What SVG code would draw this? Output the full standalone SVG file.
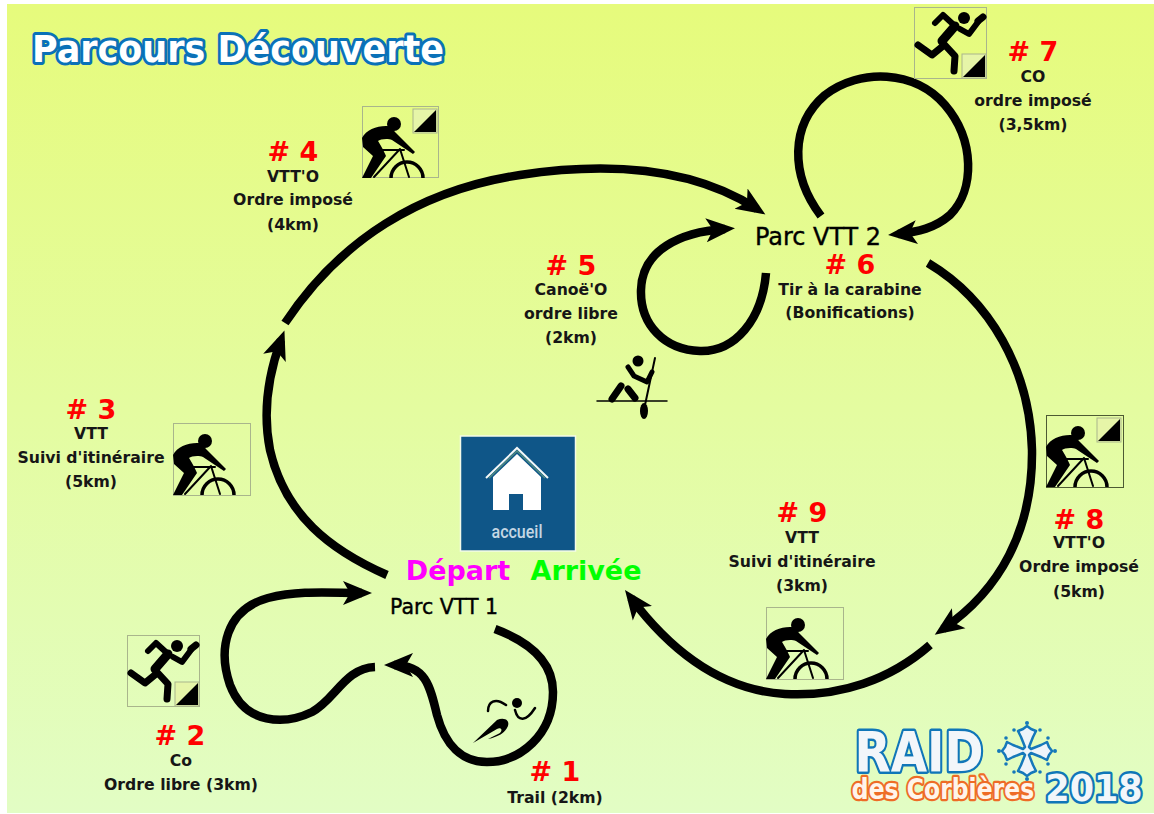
<svg xmlns="http://www.w3.org/2000/svg" width="1154" height="814" viewBox="0 0 1154 814">
<style>
text{font-family:"DejaVu Sans",Verdana,sans-serif;text-anchor:middle}
.num{font-size:27px;font-weight:700;fill:#f00}
.lab{font-size:15.700px;font-weight:700;fill:#161616}
.park{fill:#000;stroke:#000;stroke-width:.4px}
.c{fill:none;stroke:#000;stroke-width:8.500;stroke-linecap:butt}
.box{fill:none;stroke:#a9b58c;stroke-width:1}
.ln{fill:none;stroke:#000;stroke-linecap:round;stroke-linejoin:round}
.blue{fill:#f2f6fa;stroke:#1076b8;stroke-width:5;stroke-linejoin:round;paint-order:stroke;font-weight:700}
.org{fill:#fff4ea;stroke:#ee6c26;stroke-width:4.500;stroke-linejoin:round;paint-order:stroke;font-weight:700}
</style>
<defs>
<linearGradient id="bg" x1="0" y1="0" x2="0" y2="1"><stop offset="0" stop-color="#e6fb7c"/><stop offset="1" stop-color="#e2fdc4"/></linearGradient>
<marker id="arr" markerUnits="userSpaceOnUse" markerWidth="34" markerHeight="30" refX="19" refY="15" orient="auto"><path d="M29 15L0 3L7 15L0 27Z" fill="#000"/></marker>
<g id="flag"><rect x="0" y="0" width="24" height="24" fill="#e6f5a8" stroke="#a9b58c"/><path d="M23 1V23H1Z" fill="#000"/></g>
<g id="bike">
<circle cx="32" cy="18" r="7" fill="#000"/>
<path d="M0 32C4 24 14 20 24 20C28 20 30 22 33 26L53 46L51 48L30 34C26 32 18 33 16 35C18 38 22 45 24 50L9 72H0L11 50L1 41Z" fill="#000"/>
<path class="ln" stroke-width="2" d="M12 71L38 43L47 71M18 44H42"/>
<path d="M29 72A16 16 0 1 1 61 72" fill="none" stroke="#000" stroke-width="3.500"/>
</g>
<g id="run" class="ln" stroke-width="7">
<circle cx="50" cy="11" r="6" fill="#000" stroke="none"/>
<path d="M4 38L18 48L29 39"/>
<path stroke-width="9" d="M41 19L28 34"/>
<path d="M29 36L41 49L40 64"/>
<path stroke-width="6" d="M41 19L29 8L21 16M46 22L55 27L64 15"/>
<path stroke-width="7" d="M64 14L69 10"/>
</g>
</defs>
<rect width="1154" height="814" fill="#fff"/>
<rect x="7" y="4" width="1147" height="809" fill="url(#bg)"/>

<g id="title"><text x="238" y="62" class="blue" font-size="37" textLength="412" lengthAdjust="spacingAndGlyphs" style="stroke:#0a71b8;stroke-width:6px;fill:#fff">Parcours Découverte</text></g>

<g id="connectors">
<path class="c" marker-end="url(#arr)" d="M495 629C530 642 553 662 553 692C553 735 520 762 487 762C462 762 445 745 437 715C430 685 425 665 394 665"/>
<path class="c" marker-end="url(#arr)" d="M375 667C345 668 335 700 312 712C285 725 245 725 230 685C218 650 225 610 268 598C300 590 330 593 362 593"/>
<path class="c" marker-end="url(#arr)" d="M387 575C330 550 285 515 270 450C262 410 270 370 281 340"/>
<path class="c" marker-end="url(#arr)" d="M285 323C340 240 420 190 520 175C620 160 700 172 757 209"/>
<path class="c" marker-end="url(#arr)" d="M766 273C762 320 735 352 700 351C665 350 640 325 641 290C642 250 680 232 725 229"/>
<path class="c" marker-end="url(#arr)" d="M821 216C790 175 790 125 825 95C860 68 915 70 945 105C975 140 975 190 950 215C935 228 918 232 898 234"/>
<path class="c" marker-end="url(#arr)" d="M928 263C990 300 1030 370 1032 450C1033 530 1000 590 943 629"/>
<path class="c" marker-end="url(#arr)" d="M930 645C890 680 840 697 785 694C720 690 670 650 631 598"/>
</g>

<g id="home">
<rect x="460.500" y="436" width="115" height="115" fill="#0f5688" stroke="#f4fbe8" stroke-width="1.500"/>
<path d="M486 478L517 448L548 478" fill="none" stroke="#f4f8f8" stroke-width="2"/>
<path d="M489 478L517 451L545 478" fill="none" stroke="#4f8a80" stroke-width="1.500"/>
<path d="M493 510V477L517 454L541 477V510H523V494H509V510Z" fill="#fff"/>
<text x="517" y="538" font-size="19" font-weight="500" fill="#c4d7e4" textLength="51" lengthAdjust="spacingAndGlyphs" style="font-family:Roboto,sans-serif">accueil</text>
</g>

<g id="start"><text x="458" y="580" font-size="27" font-weight="700" fill="#f0f">Départ</text>
<text x="586" y="580" font-size="27" font-weight="700" fill="#0f0">Arrivée</text>
<text x="444" y="614" class="park" font-size="20.500">Parc VTT 1</text></g>

<g id="park2"><text x="818" y="245" class="park" font-size="24" textLength="126" lengthAdjust="spacingAndGlyphs">Parc VTT 2</text></g>

<g id="n1"><text x="555" y="781" class="num">#&#160;1</text><text x="555" y="803" class="lab">Trail (2km)</text>
<circle cx="517" cy="703" r="5" fill="#000"/>
<path class="ln" stroke-width="2.500" d="M488 711C488 702 495 697 506 705M515 710C518 722 526 722 535 708"/>
<path d="M473 743L497 720C504 717 510 720 508 726C505 733 498 737 488 739L500 733C503 730 501 727 497 729Z" fill="#000"/></g>

<g id="n2"><text x="180" y="745" class="num">#&#160;2</text><text x="181" y="766" class="lab">Co</text><text x="181" y="790" class="lab">Ordre libre (3km)</text>
<g transform="translate(127 635)"><rect class="box" x=".5" y=".5" width="72" height="71"/><use href="#run"/><use href="#flag" transform="translate(48 47)"/></g></g>

<g id="n3"><text x="91" y="419" class="num">#&#160;3</text><text x="91" y="439" class="lab">VTT</text><text x="91" y="463" class="lab">Suivi d'itinéraire</text><text x="91" y="487" class="lab">(5km)</text>
<g transform="translate(173 423)"><rect class="box" x=".5" y=".5" width="77" height="72"/><use href="#bike"/></g></g>

<g id="n4"><text x="293" y="161" class="num">#&#160;4</text><text x="293" y="182" class="lab">VTT'O</text><text x="293" y="205" class="lab">Ordre imposé</text><text x="293" y="230" class="lab">(4km)</text>
<g transform="translate(362 106)"><rect class="box" x=".5" y=".5" width="76" height="71"/><use href="#bike"/><use href="#flag" transform="translate(51 3)"/></g></g>

<g id="n5"><text x="571" y="275" class="num">#&#160;5</text><text x="571" y="295" class="lab">Canoë'O</text><text x="571" y="319" class="lab">ordre libre</text><text x="571" y="343" class="lab">(2km)</text>
<circle cx="638" cy="361" r="5.500" fill="#000"/>
<path class="ln" stroke-width="1.500" d="M597 401H667"/><path class="ln" stroke-width="2" d="M655 358L645 405"/><ellipse cx="644" cy="411" rx="4" ry="8" fill="#000"/>
<path class="ln" stroke-width="5" d="M628 367L634 376L647 382L652 372"/><path class="ln" stroke-width="7" d="M621 386L612 399M628 389L635 398"/></g>

<g id="n6"><text x="850" y="274" class="num">#&#160;6</text><text x="850" y="295" class="lab">Tir à la carabine</text><text x="850" y="318" class="lab">(Bonifications)</text></g>

<g id="n7"><text x="1033" y="61" class="num">#&#160;7</text><text x="1033" y="82" class="lab">CO</text><text x="1033" y="106" class="lab">ordre imposé</text><text x="1033" y="130" class="lab">(3,5km)</text>
<g transform="translate(914 7)"><rect class="box" x=".5" y=".5" width="72" height="71"/><use href="#run"/><use href="#flag" transform="translate(48 47)"/></g></g>

<g id="n8"><text x="1079" y="529" class="num">#&#160;8</text><text x="1079" y="548" class="lab">VTT'O</text><text x="1079" y="572" class="lab">Ordre imposé</text><text x="1079" y="597" class="lab">(5km)</text>
<g transform="translate(1046 415)"><rect class="box" style="stroke:#4d5a33" x=".5" y=".5" width="77" height="72"/><use href="#bike"/><use href="#flag" transform="translate(51 3)"/></g></g>

<g id="n9"><text x="802" y="522" class="num">#&#160;9</text><text x="802" y="543" class="lab">VTT</text><text x="802" y="567" class="lab">Suivi d'itinéraire</text><text x="802" y="591" class="lab">(3km)</text>
<g transform="translate(766 607)"><rect class="box" x=".5" y=".5" width="77" height="72"/><use href="#bike"/></g></g>

<g id="logo">
<text transform="translate(919 771) scale(.84 1)" class="blue" font-size="56">RAID</text>
<text transform="translate(943 799) scale(.84 1)" class="org" font-size="28">des Corbières</text>
<text transform="translate(1094 801) scale(.92 1)" class="blue" font-size="38">2018</text>
<g transform="translate(1027 751)" fill="#eef4fa" stroke="#1578ba" stroke-width="2.500" stroke-linejoin="round">
<path d="M-2-4L-6-14L-9-20L-4-22L0-25L4-22L9-20L6-14L2-4L4-2L14-6L20-9L22-4L25 0L22 4L20 9L14 6L4 2L2 4L6 14L9 20L4 22L0 25L-4 22L-9 20L-6 14L-2 4L-4 2L-14 6L-20 9L-22 4L-25 0L-22-4L-20-9L-14-6L-4-2Z"/>
<g fill="#1578ba" stroke="none"><circle cx="0" cy="-28" r="2"/><circle cx="-13" cy="-21" r="1.800"/><circle cx="13" cy="-21" r="1.800"/><circle cx="0" cy="28" r="2"/><circle cx="-13" cy="21" r="1.800"/><circle cx="13" cy="21" r="1.800"/><circle cx="-28" cy="0" r="2"/><circle cx="-21" cy="-13" r="1.800"/><circle cx="-21" cy="13" r="1.800"/><circle cx="28" cy="0" r="2"/><circle cx="21" cy="-13" r="1.800"/><circle cx="21" cy="13" r="1.800"/></g>
</g>
</g>
</svg>
